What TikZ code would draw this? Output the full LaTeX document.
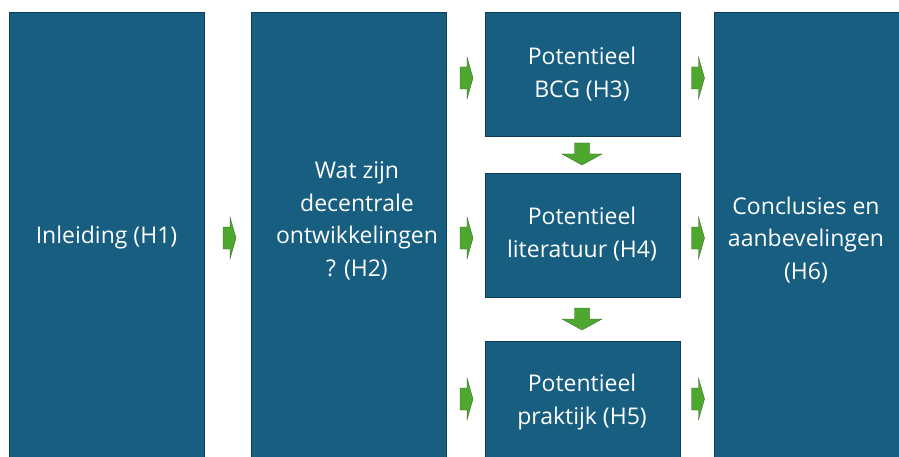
\documentclass[tikz,border=0pt]{standalone}
\usepackage{fontspec}
\setmainfont{Open Sans}
\definecolor{boxblue}{RGB}{23,94,128}
\definecolor{boxedge}{RGB}{14,62,86}
\definecolor{arrowgreen}{RGB}{78,167,46}
\tikzset{
  blockbox/.style={draw=boxedge, line width=0.8pt, fill=boxblue, rectangle, inner sep=0pt},
  boxtext/.style={text=white, align=center, font=\fontsize{23}{32.5}\selectfont, inner sep=0pt},
  greenarrow/.style={fill=arrowgreen, draw=arrowgreen!60!black, line width=0.3pt},
  pics/rarrow/.style={code={
    \path[greenarrow] (-13,-11) -- (-6,-11) -- (-6,-21) -- (0,0) -- (-6,21) -- (-6,11) -- (-13,11) -- cycle;
  }},
  pics/darrow/.style={code={
    \path[greenarrow] (-7.5,-22) -- (7.5,-22) -- (7.5,-11) -- (20,-11) -- (0,0) -- (-20,-11) -- (-7.5,-11) -- cycle;
  }}
}
\begin{document}
\begin{tikzpicture}[x=1pt,y=-1pt]
\useasboundingbox (0,0) rectangle (899,457);
\fill[white] (0,0) rectangle (899,457);
% boxes
\node[blockbox, minimum width=195pt, minimum height=450pt, anchor=north west] (b1) at (9,12) {};
\node[blockbox, minimum width=195pt, minimum height=450pt, anchor=north west] (b2) at (251,12) {};
\node[blockbox, minimum width=195pt, minimum height=124pt, anchor=north west] (b3) at (484.5,12) {};
\node[blockbox, minimum width=195pt, minimum height=124pt, anchor=north west] (b4) at (484.5,173) {};
\node[blockbox, minimum width=195pt, minimum height=124pt, anchor=north west] (b5) at (484.5,341) {};
\node[blockbox, minimum width=195pt, minimum height=450pt, anchor=north west] (b6) at (714,12) {};
% texts
\node[boxtext] (t1) at (106.5,238) {Inleiding (H1)};
\node[boxtext] (t2) at (357,221) {Wat zijn\\decentrale\\ontwikkelingen\\? (H2)};
\node[boxtext] (t3) at (582,74) {Potentieel\\BCG (H3)};
\node[boxtext] (t4) at (582,234) {Potentieel\\literatuur (H4)};
\node[boxtext] (t5) at (582,402) {Potentieel\\praktijk (H5)};
\node[boxtext] (t6) at (806,240) {Conclusies en\\aanbevelingen\\(H6)};
% arrows
\coordinate (a1) at (236,238);
\coordinate (a2) at (473,78);
\coordinate (a3) at (473,238);
\coordinate (a4) at (473,399);
\coordinate (a5) at (704.5,78);
\coordinate (a6) at (704.5,238);
\coordinate (a7) at (704.5,399);
\coordinate (d1) at (582,165);
\coordinate (d2) at (582,330);
\foreach \c in {a1,a2,a3,a4,a5,a6,a7} { \pic at (\c) {rarrow}; }
\foreach \c in {d1,d2} { \pic at (\c) {darrow}; }
\end{tikzpicture}
\end{document}
